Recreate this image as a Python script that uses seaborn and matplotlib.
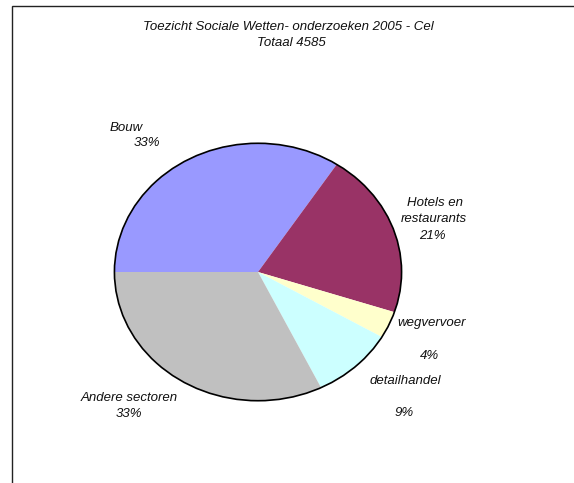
import matplotlib
matplotlib.use("Agg")
import matplotlib.pyplot as plt
import seaborn as sns
from matplotlib.patches import Rectangle, Ellipse

sns.set_theme(style="white")
plt.rcParams['font.family'] = ['Liberation Sans', 'DejaVu Sans']

title_lines = ["Toezicht Sociale Wetten- onderzoeken 2005 - Cel", "Totaal 4585"]
categories = ["Bouw", "Hotels en restaurants", "wegvervoer", "detailhandel", "Andere sectoren"]
counts = [1570, 954, 155, 428, 1478]
pct_labels = ["33%", "21%", "4%", "9%", "33%"]
colors = sns.color_palette(["#9999FF", "#993366", "#FFFFCC", "#CCFFFF", "#C0C0C0"])

W, H = 574, 483
fig = plt.figure(figsize=(W / 100, H / 100), dpi=100)
fig.patch.set_facecolor("white")

def fx(px):
    return px / W

def fy(py):
    return 1 - py / H

# frame (left and top edges visible)
fig.add_artist(Rectangle((fx(11.5), fy(600)), fx(700), fy(6) - fy(600), transform=fig.transFigure,
                         fill=False, edgecolor="#222222", linewidth=1.0))

ax = fig.add_axes([fx(113), fy(402), fx(403) - fx(113), fy(142) - fy(402)])
ax.pie(counts, colors=colors, startangle=180, counterclock=False, radius=1,
       wedgeprops=dict(linewidth=0))
ax.add_patch(Ellipse((0, 0), 2, 2, fill=False, edgecolor="black", linewidth=1.2))
ax.set_xlim(-1.01, 1.01)
ax.set_ylim(-1.01, 1.01)
ax.set_aspect("auto")
ax.axis("off")

fs = 9.5
tkw = dict(ha="center", va="center", fontsize=fs, style="italic", color="#111111")

fig.text(fx(288.5), fy(27), title_lines[0], **tkw)
fig.text(fx(291), fy(43), title_lines[1], **tkw)

# label layout: list of (text lines with y) per category and pct position
name_pos = [
    [(126, 128)],
    [(435, 203), (434, 219)],
    [(432, 323)],
    [(405, 381)],
    [(129.5, 398)],
]
pct_pos = [(147, 143), (432, 236), (429, 356), (404, 413), (129, 414)]

for name, pct, npos, ppos in zip(categories, pct_labels, name_pos, pct_pos):
    words = name.split(" ")
    if len(npos) == 2:
        parts = [" ".join(words[:2]), " ".join(words[2:])]
    else:
        parts = [name]
    for part, (x, y) in zip(parts, npos):
        fig.text(fx(x), fy(y), part, **tkw)
    fig.text(fx(ppos[0]), fy(ppos[1]), pct, **tkw)

fig.savefig("out.png", dpi=100, facecolor="white")
